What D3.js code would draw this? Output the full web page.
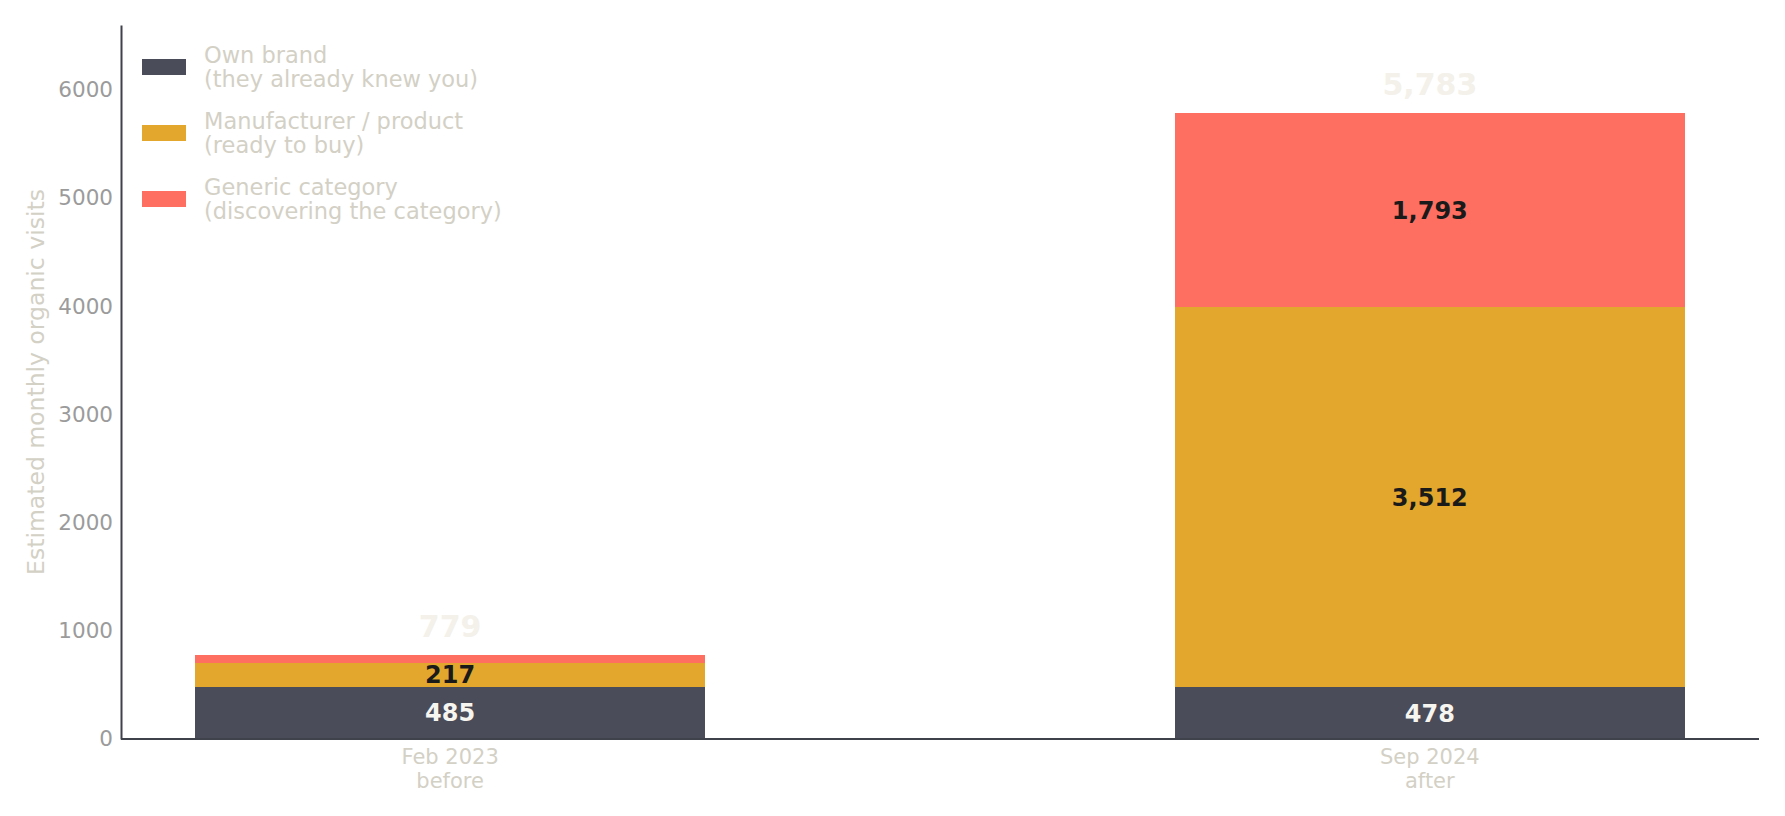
<!DOCTYPE html>
<html>
<head>
<meta charset="utf-8">
<script src="https://cdn.jsdelivr.net/npm/d3@7"></script>
<style>
  body { margin: 0; background: #ffffff; }
  svg { display: block; font-family: "DejaVu Sans", sans-serif; }
</style>
</head>
<body>
<div id="chart"></div>
<script>
// categories and series
const periods = ["Feb 2023", "Sep 2024"]
const periodNotes = ["before", "after"]
const ownBrand = [485, 478]
const manufacturer = [217, 3512]
const generic = [77, 1793]
const seriesNames = ["Own brand", "Manufacturer / product", "Generic category"]
const seriesNotes = ["(they already knew you)", "(ready to buy)", "(discovering the category)"]
const yTicks = [0, 1000, 2000, 3000, 4000, 5000, 6000]

const width = 1785
const height = 816
const marginLeft = 121
const marginRight = 26
const marginTop = 25
const marginBottom = 77
const barWidth = 0.52
const colors = ["#4a4c59", "#e3a72d", "#ff6f61"]
const labelColors = ["#f7f5f0", "#1a1a1a", "#1a1a1a"]

const series = [ownBrand, manufacturer, generic]
const rows = periods.map((p, i) => ({
      period: p,
      note: periodNotes[i],
      values: series.map(s => s[i])
}))
rows.forEach(r => r.total = d3.sum(r.values))

// scales
const xScale = d3.scaleLinear()
      .domain([-0.336, 1.336])
      .range([marginLeft, width - marginRight])
const yScale = d3.scaleLinear()
      .domain([0, 6600])
      .range([height - marginBottom, marginTop])

const svg = d3.select("#chart").append("svg")
      .attr("width", width)
      .attr("height", height)
      .attr("viewBox", [0, 0, width, height])

// stacked bars
const stacked = d3.stack().keys([0, 1, 2]).value((d, k) => d.values[k])(rows)

svg.append("g")
      .attr("shape-rendering", "crispEdges")
      .selectAll("g")
      .data(stacked)
      .join("g")
      .attr("fill", (d, k) => colors[k])
      .selectAll("rect")
      .data(d => d.map((s, i) => ({s, i})))
      .join("rect")
      .attr("x", d => xScale(d.i - barWidth / 2))
      .attr("width", xScale(barWidth) - xScale(0))
      .attr("y", d => yScale(d.s[1]))
      .attr("height", d => yScale(d.s[0]) - yScale(d.s[1]))

// segment labels (skip small ones)
stacked.forEach((layer, k) => {
      svg.append("g")
            .selectAll("text")
            .data(layer.map((s, i) => ({s, i, v: rows[i].values[k]})).filter(d => d.v >= 150))
            .join("text")
            .attr("x", d => xScale(d.i))
            .attr("y", d => yScale((d.s[0] + d.s[1]) / 2))
            .attr("dy", "0.36em")
            .attr("text-anchor", "middle")
            .attr("font-size", 24)
            .attr("font-weight", "bold")
            .attr("fill", labelColors[k])
            .text(d => d3.format(",")(d.v))
})

// totals
svg.append("g")
      .selectAll("text")
      .data(rows)
      .join("text")
      .attr("x", (d, i) => xScale(i))
      .attr("y", d => yScale(d.total) - 29)
      .attr("dy", "0.36em")
      .attr("text-anchor", "middle")
      .attr("font-size", 30)
      .attr("font-weight", "bold")
      .attr("fill", "#f3f1ea")
      .text(d => d3.format(",")(d.total))

// axis y
const yAxis = d3.axisLeft(yScale).tickValues(yTicks).tickSize(0).tickPadding(8).tickFormat(d3.format("d"))
svg.append("g")
      .attr("transform", `translate(${marginLeft},0)`)
      .call(yAxis)
      .call(g => g.select(".domain").attr("stroke", "#3f414b").attr("stroke-width", 2))
      .call(g => g.selectAll(".tick text")
            .attr("font-size", 21.5)
            .attr("font-family", "DejaVu Sans")
            .attr("fill", "#9b9b9b"))

svg.append("text")
      .attr("transform", `translate(36,${(marginTop + height - marginBottom) / 2}) rotate(-90)`)
      .attr("text-anchor", "middle")
      .attr("dy", "0.36em")
      .attr("font-size", 23.5)
      .attr("fill", "#d3d0c5")
      .text("Estimated monthly organic visits")

// axis x
svg.append("line")
      .attr("x1", marginLeft)
      .attr("x2", width - marginRight)
      .attr("y1", yScale(0))
      .attr("y2", yScale(0))
      .attr("stroke", "#3f414b")
      .attr("stroke-width", 2)

const xLabels = svg.append("g")
      .selectAll("text")
      .data(rows)
      .join("text")
      .attr("x", (d, i) => xScale(i))
      .attr("y", yScale(0) + 25)
      .attr("text-anchor", "middle")
      .attr("font-size", 21)
      .attr("fill", "#d3d0c5")
xLabels.append("tspan").attr("x", (d, i) => xScale(i)).text(d => d.period)
xLabels.append("tspan").attr("x", (d, i) => xScale(i)).attr("dy", 24).text(d => d.note)

// legend
const legend = svg.append("g")
      .selectAll("g")
      .data(seriesNames)
      .join("g")
      .attr("transform", (d, k) => `translate(142,${67 + k * 66})`)
legend.append("rect")
      .attr("x", 0)
      .attr("y", -8)
      .attr("width", 44)
      .attr("height", 16)
      .attr("fill", (d, k) => colors[k])
const legendText = legend.append("text")
      .attr("x", 62)
      .attr("font-size", 22.5)
      .attr("fill", "#d3d0c5")
legendText.append("tspan").attr("x", 62).attr("y", -4).text(d => d)
legendText.append("tspan").attr("x", 62).attr("y", 20).text((d, k) => seriesNotes[k])
</script>
</body>
</html>
